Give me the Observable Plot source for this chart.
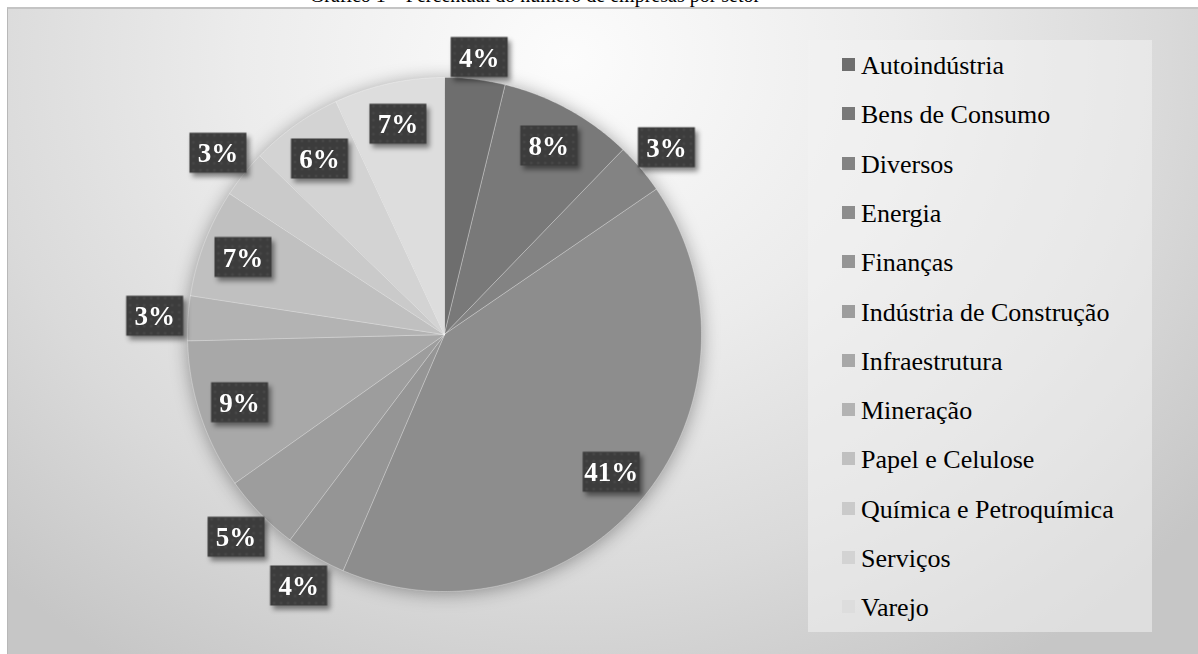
<!DOCTYPE html>
<html>
<head>
<meta charset="utf-8">
<script src="https://cdn.jsdelivr.net/npm/d3@7"></script>
<script src="https://cdn.jsdelivr.net/npm/@observablehq/plot@0.6"></script>
<style>
  html, body { margin: 0; padding: 0; background: #ffffff; }
  body { width: 1198px; height: 654px; position: relative; overflow: hidden; font-family: "Liberation Serif", "Times New Roman", serif; }
  #title { position: absolute; left: 0; width: 1070px; top: -15px; text-align: center; font-size: 20px; line-height: 20px; color: #000; }
  #area { position: absolute; left: 7px; top: 7px; width: 1191px; height: 647px; border-left: 1px solid #b8b8b8; border-top: 2px solid #c4c4c4; box-sizing: border-box;
          background: radial-gradient(ellipse 820px 720px at 560px 50px, #fcfcfc 0%, #ececec 40%, #dadada 72%, #c6c6c6 100%); }
  #chart { position: absolute; left: 0; top: 0; }
  #legend { position: absolute; left: 808px; top: 40px; width: 344px; height: 592px; background: rgba(242,242,242,0.55); }
  .item { position: absolute; left: 0; height: 26px; font-size: 26px; line-height: 26px; white-space: nowrap; color: #000; }
  .sw { position: absolute; width: 13px; height: 13px; }
  .lt { position: absolute; left: 53px; top: 0; }
</style>
</head>
<body>
<div id="title">Gráfico 1 – Percentual do número de empresas por setor</div>
<div id="area"></div>
<div id="chart"></div>
<div id="legend"></div>
<script>
// ---- data ----
const categories = ["Autoindústria", "Bens de Consumo", "Diversos", "Energia", "Finanças",
  "Indústria de Construção", "Infraestrutura", "Mineração", "Papel e Celulose",
  "Química e Petroquímica", "Serviços", "Varejo"];
const shares = [3.8, 8.4, 3.2, 40.9, 3.8, 4.9, 9.4, 2.8, 6.8, 3.0, 5.8, 6.9];
const greys = ["#6e6e6e", "#797979", "#838383", "#8d8d8d", "#959595", "#9d9d9d",
  "#a8a8a8", "#b3b3b3", "#c0c0c0", "#cacaca", "#d3d3d3", "#dddddd"];

// ---- derived geometry (unit circle, y up) ----
const total = d3.sum(shares);
let acc = 0;
const slices = categories.map((c, i) => {
  const a0 = acc / total * 2 * Math.PI;
  acc += shares[i];
  const a1 = acc / total * 2 * Math.PI;
  const pct = Math.round(shares[i] / total * 100);
  return {cat: c, a0, a1, pct};
});

const features = slices.map(s => {
  const ring = [[0, 0]];
  const n = Math.max(2, Math.ceil((s.a1 - s.a0) / (Math.PI / 360)));
  for (let k = 0; k <= n; k++) {
    const a = s.a1 - (s.a1 - s.a0) * k / n;
    ring.push([Math.sin(a), Math.cos(a)]);
  }
  ring.push([0, 0]);
  return {type: "Feature", properties: {cat: s.cat}, geometry: {type: "Polygon", coordinates: [ring]}};
});
const unitSquare = {type: "Polygon", coordinates: [[[-1, -1], [1, -1], [1, 1], [-1, 1], [-1, -1]]]};

const labels = slices.map(s => {
  const m = (s.a0 + s.a1) / 2;
  const r = s.pct >= 6 ? 0.84 : 1.13;
  return {cat: s.cat, text: s.pct + "%", x: r * Math.sin(m), y: Math.min(1.08, r * Math.cos(m))};
});

const boxSymbol = {draw(ctx) { ctx.rect(-28.5, -20, 57, 40); }};

const plot = Plot.plot({
  width: 1198,
  height: 654,
  marginLeft: 187,
  marginRight: 497,
  marginTop: 77,
  marginBottom: 63,
  projection: {type: "reflect-y", domain: unitSquare, clip: false},
  color: {domain: categories, range: greys},
  style: {background: "transparent", overflow: "visible"},
  marks: [
    Plot.geo(features, {fill: d => d.properties.cat, stroke: "#ffffff", strokeOpacity: 0.3, strokeWidth: 1}),
    Plot.dot(labels, {x: "x", y: "y", symbol: boxSymbol, fill: "url(#dotpat)", stroke: null}),
    Plot.text(labels, {x: "x", y: "y", text: "text", fill: "#ffffff", fontSize: 27, fontWeight: "bold", fontFamily: "Liberation Serif", textAnchor: "middle", lineAnchor: "middle", dy: 1})
  ]
});

const svg = d3.select(plot);
const defs = svg.insert("defs", ":first-child");
const pat = defs.append("pattern").attr("id", "dotpat").attr("patternUnits", "userSpaceOnUse").attr("width", 7).attr("height", 7);
pat.append("rect").attr("width", 7).attr("height", 7).attr("fill", "#3c3c3c");
pat.append("circle").attr("cx", 3.5).attr("cy", 3.5).attr("r", 1.2).attr("fill", "#4b4b4b");
svg.select('g[aria-label="geo"]').style("filter", "drop-shadow(0px 2px 9px rgba(0,0,0,0.35))");
svg.select('g[aria-label="dot"]').style("filter", "drop-shadow(3px 4px 2.5px rgba(0,0,0,0.45))");
svg.select('g[aria-label="text"]').style("font-family", "'Liberation Serif', 'Times New Roman', serif");
document.getElementById("chart").appendChild(plot);

// ---- legend ----
const color = plot.scale("color");
const leg = d3.select("#legend");
categories.forEach((c, i) => {
  const it = leg.append("div").attr("class", "item").style("top", (13.2 + i * 49.27) + "px");
  it.append("div").attr("class", "sw").style("left", "34px").style("top", "5px").style("background", color.apply(c));
  it.append("div").attr("class", "lt").text(c);
});
</script>
</body>
</html>
